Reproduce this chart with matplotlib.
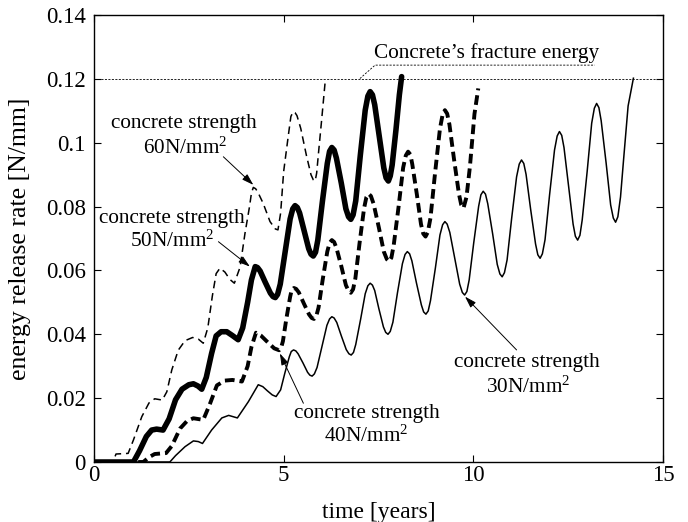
import matplotlib
matplotlib.use("Agg")
import matplotlib.pyplot as plt

# ---- energy release rate vs. time for four concrete strengths ----
# 30 N/mm2 (thin solid)
t30 = [0, 2.0, 2.15, 2.4, 2.62, 2.75, 2.86, 3.1, 3.37, 3.55, 3.78, 4.07, 4.33, 4.45, 4.57, 4.70,
       4.80, 4.92, 5.03, 5.15, 5.20, 5.26, 5.32, 5.38, 5.51, 5.63,
       5.69, 5.75, 5.81, 5.88, 6.01, 6.14, 6.21, 6.27, 6.33, 6.40,
       6.52, 6.65, 6.72, 6.78, 6.84, 6.90, 7.03, 7.15, 7.22, 7.28,
       7.34, 7.40, 7.51, 7.63, 7.69, 7.75, 7.81, 7.88, 8.00, 8.13,
       8.20, 8.26, 8.32, 8.38, 8.50, 8.63, 8.69, 8.75, 8.81, 8.87,
       9.00, 9.12, 9.19, 9.25, 9.31, 9.38, 9.51, 9.64, 9.71, 9.77,
       9.83, 9.89, 10.01, 10.14, 10.20, 10.26, 10.32, 10.38, 10.51, 10.63,
       10.70, 10.76, 10.82, 10.89, 11.01, 11.14, 11.21, 11.27, 11.33, 11.39,
       11.51, 11.64, 11.70, 11.76, 11.82, 11.89, 12.01, 12.14, 12.21, 12.27,
       12.33, 12.39, 12.51, 12.63, 12.69, 12.75, 12.81, 12.87, 13.00, 13.12,
       13.19, 13.25, 13.31, 13.37, 13.50, 13.62, 13.69, 13.75, 13.81, 13.88,
       13.96, 14.08, 14.22]
g30 = [0, 0, 0.0020, 0.0048, 0.0066, 0.0064, 0.0058, 0.0100, 0.0138, 0.0146, 0.0138, 0.0189, 0.0242, 0.0236, 0.0223, 0.0210,
       0.0205, 0.0226, 0.0278, 0.0330, 0.0346, 0.0351, 0.0348, 0.0339, 0.0310, 0.0281,
       0.0272, 0.0269, 0.0276, 0.0296, 0.0362, 0.0428, 0.0448, 0.0455, 0.0451, 0.0437,
       0.0395, 0.0352, 0.0339, 0.0335, 0.0343, 0.0368, 0.0448, 0.0527, 0.0552, 0.0560,
       0.0554, 0.0537, 0.0480, 0.0423, 0.0406, 0.0400, 0.0409, 0.0438, 0.0530, 0.0621,
       0.0650, 0.0659, 0.0652, 0.0630, 0.0561, 0.0492, 0.0470, 0.0463, 0.0473, 0.0505,
       0.0608, 0.0711, 0.0743, 0.0753, 0.0745, 0.0719, 0.0638, 0.0557, 0.0531, 0.0523,
       0.0534, 0.0570, 0.0686, 0.0801, 0.0837, 0.0848, 0.0839, 0.0809, 0.0714, 0.0619,
       0.0589, 0.0580, 0.0593, 0.0633, 0.0763, 0.0893, 0.0933, 0.0946, 0.0935, 0.0901,
       0.0792, 0.0683, 0.0649, 0.0638, 0.0652, 0.0696, 0.0837, 0.0977, 0.1021, 0.1035,
       0.1023, 0.0985, 0.0865, 0.0745, 0.0707, 0.0695, 0.0710, 0.0758, 0.0909, 0.1061,
       0.1108, 0.1123, 0.1110, 0.1069, 0.0937, 0.0805, 0.0764, 0.0751, 0.0768, 0.0830,
       0.0946, 0.1115, 0.1202]

# 40 N/mm2 (thick dashed)
t40 = [0, 1.30, 1.45, 1.60, 1.90, 2.05, 2.27, 2.45, 2.62, 2.88, 3.05, 3.24, 3.45, 3.65, 3.90, 4.05, 4.15, 4.27, 4.40, 4.58, 4.75,
       4.88, 4.93, 4.98, 5.07, 5.17, 5.21, 5.27, 5.33, 5.40, 5.53,
       5.67, 5.74, 5.80, 5.86, 5.92, 6.03, 6.15, 6.21, 6.27, 6.33,
       6.39, 6.52, 6.64, 6.71, 6.77, 6.83, 6.89, 7.00, 7.12, 7.18,
       7.24, 7.30, 7.37, 7.51, 7.64, 7.72, 7.78, 7.84, 7.90, 8.03,
       8.15, 8.22, 8.28, 8.34, 8.39, 8.51, 8.62, 8.68, 8.74, 8.80,
       8.87, 8.99, 9.12, 9.19, 9.25, 9.31, 9.37, 9.49, 9.62, 9.68,
       9.74, 9.82, 9.91, 10.03, 10.13]
g40 = [0, 0, 0.0015, 0.0025, 0.0028, 0.0050, 0.0105, 0.0128, 0.0137, 0.0132, 0.0180, 0.0240, 0.0255, 0.0257, 0.0252, 0.0300, 0.0360, 0.0405, 0.0396, 0.0375, 0.0356,
       0.0350, 0.0357, 0.0378, 0.0448, 0.0517, 0.0538, 0.0545, 0.0542, 0.0531, 0.0497,
       0.0462, 0.0451, 0.0448, 0.0457, 0.0484, 0.0572, 0.0659, 0.0686, 0.0695, 0.0689,
       0.0671, 0.0613, 0.0554, 0.0536, 0.0530, 0.0541, 0.0575, 0.0685, 0.0795, 0.0829,
       0.0840, 0.0833, 0.0809, 0.0734, 0.0659, 0.0635, 0.0628, 0.0640, 0.0678, 0.0800,
       0.0922, 0.0960, 0.0972, 0.0963, 0.0933, 0.0839, 0.0745, 0.0715, 0.0706, 0.0720,
       0.0764, 0.0904, 0.1044, 0.1088, 0.1102, 0.1091, 0.1057, 0.0949, 0.0840, 0.0806,
       0.0795, 0.0830, 0.0925, 0.1090, 0.1170]

# 50 N/mm2 (thick solid)
t50 = [0, 1.04, 1.20, 1.38, 1.52, 1.65, 1.82, 1.98, 2.15, 2.32, 2.50, 2.62, 2.74, 2.84, 2.96, 3.10, 3.22, 3.35, 3.50, 3.65, 3.80, 3.92, 4.05, 4.15,
       4.25, 4.31, 4.38, 4.51, 4.65, 4.72, 4.78, 4.84, 4.91, 5.04,
       5.17, 5.24, 5.30, 5.36, 5.42, 5.54, 5.66, 5.72, 5.78, 5.84,
       5.90, 6.02, 6.15, 6.21, 6.27, 6.33, 6.39, 6.52, 6.64, 6.71,
       6.77, 6.83, 6.90, 7.02, 7.15, 7.22, 7.28, 7.34, 7.40, 7.52,
       7.64, 7.70, 7.76, 7.81, 7.86, 7.96, 8.05, 8.11]
g50 = [0, 0, 0.0035, 0.0080, 0.0100, 0.0103, 0.0100, 0.0135, 0.0195, 0.0228, 0.0242, 0.0245, 0.0238, 0.0228, 0.0265, 0.0340, 0.0395, 0.0408, 0.0408, 0.0396, 0.0383, 0.0420, 0.0500, 0.0570,
       0.0612, 0.0609, 0.0598, 0.0564, 0.0529, 0.0518, 0.0515, 0.0525, 0.0557, 0.0659,
       0.0761, 0.0793, 0.0803, 0.0797, 0.0780, 0.0724, 0.0668, 0.0651, 0.0645, 0.0657,
       0.0695, 0.0815, 0.0935, 0.0973, 0.0985, 0.0977, 0.0952, 0.0873, 0.0793, 0.0768,
       0.0760, 0.0774, 0.0818, 0.0960, 0.1102, 0.1146, 0.1160, 0.1150, 0.1119, 0.1020,
       0.0921, 0.0890, 0.0880, 0.0896, 0.0930, 0.1040, 0.1150, 0.1207]

# 60 N/mm2 (thin dashed)
t60 = [0, 0.50, 0.58, 0.90, 1.04, 1.26, 1.45, 1.60, 1.80, 1.92,
       2.05, 2.22, 2.40, 2.60, 2.75, 2.88, 3.00, 3.12, 3.22, 3.32,
       3.45, 3.58, 3.70, 3.85, 3.98, 4.10, 4.15, 4.20, 4.26, 4.32,
       4.46, 4.64, 4.78, 4.85, 4.92, 5.00, 5.12, 5.19, 5.25, 5.30,
       5.35, 5.45, 5.60, 5.72, 5.78, 5.83, 5.87, 5.92, 6.00, 6.09]
g60 = [0, 0, 0.0025, 0.0027, 0.0069, 0.0142, 0.0185, 0.0198, 0.0194, 0.0220,
       0.0288, 0.0350, 0.0380, 0.0390, 0.0385, 0.0372, 0.0420, 0.0520, 0.0590, 0.0607,
       0.0595, 0.0572, 0.0560, 0.0610, 0.0716, 0.0800, 0.0842, 0.0860, 0.0856, 0.0845,
       0.0810, 0.0753, 0.0730, 0.0727, 0.0780, 0.0910, 0.1020, 0.1082, 0.1097, 0.1094,
       0.1085, 0.1045, 0.0960, 0.0900, 0.0884, 0.0880, 0.0905, 0.0970, 0.1070, 0.1186]

fracture_energy = 0.12
x_ticks = [0, 5, 10, 15]
y_ticks = [0, 0.02, 0.04, 0.06, 0.08, 0.1, 0.12, 0.14]
y_tick_labels = ["0", "0.02", "0.04", "0.06", "0.08", "0.1", "0.12", "0.14"]

plt.rcParams["font.family"] = ["Liberation Serif", "DejaVu Serif"]
plt.rcParams["mathtext.fontset"] = "custom"
plt.rcParams["mathtext.rm"] = "Liberation Serif"
plt.rcParams["mathtext.default"] = "regular"
plt.rcParams["lines.scale_dashes"] = False

fig = plt.figure(figsize=(6.88, 5.22), dpi=100)
ax = fig.add_axes([94 / 688, 1 - 462 / 522, 569 / 688, 447 / 522])

style = dict(color="black", solid_joinstyle="round", dash_joinstyle="round")
ax.plot(t30, g30, lw=1.1, **style)
ax.plot(t40, g40, lw=2.8, dashes=(7, 3.6), **style)
ax.plot(t50, g50, lw=4.0, solid_capstyle="round", **style)
ax.plot(t60, g60, lw=1.1, dashes=(5.5, 3.5), **style)

# fracture energy level and its label leader
ax.axhline(fracture_energy, color="black", lw=0.6, dashes=(1.5, 1.0))
ax.plot([7.01, 7.41, 13.2], [0.1201, 0.1243, 0.1243], color="black", lw=0.6, dashes=(1.5, 1.0))
ax.text(10.35, 0.1264, "Concrete\u2019s fracture energy", ha="center", va="baseline", fontsize=15.3)

labels = [
    (2.37, 0.1045, 2.40, 0.0965, "60"),
    (2.05, 0.0750, 2.05, 0.0674, "50"),
    (7.19, 0.0137, 7.17, 0.0064, "40"),
    (11.41, 0.0297, 11.45, 0.0217, "30"),
]
for x1, y1, x2, y2, s in labels:
    ax.text(x1, y1, "concrete strength", ha="center", va="baseline", fontsize=15.3)
    ax.text(x2, y2, s + "N/mm$^{2}$", ha="center", va="baseline", fontsize=15.3)

arrows = [
    ((3.41, 0.0956), (4.20, 0.0868)),
    ((3.28, 0.0690), (4.11, 0.0612)),
    ((5.52, 0.0184), (4.90, 0.0340)),
    ((11.14, 0.0351), (9.78, 0.0518)),
]
for tail, head in arrows:
    ax.annotate("", xy=head, xytext=tail,
                arrowprops=dict(arrowstyle="-|>,head_length=0.7,head_width=0.22",
                                color="black", lw=0.7, shrinkA=0, shrinkB=0))

ax.set_xlim(0, 15)
ax.set_ylim(0, 0.14)
ax.set_xticks(x_ticks)
ax.set_xticklabels([str(v) for v in x_ticks])
ax.set_yticks(y_ticks)
ax.set_yticklabels(y_tick_labels)
ax.tick_params(direction="in", length=5, width=0.8, top=True, right=True, labelsize=16.5)
ax.tick_params(axis="x", pad=2)
ax.tick_params(axis="y", pad=6)
for sp in ax.spines.values():
    sp.set_linewidth(1.0)

ax.set_xlabel("time [years]", fontsize=17, va="baseline")
ax.xaxis.set_label_coords(0.5, (462 - 518) / 447)
ax.set_ylabel("energy release rate [N/mm]", fontsize=18.5, va="center")
ax.yaxis.set_label_coords((20 - 94) / 569, 0.5)

fig.savefig("out.png", dpi=100)
